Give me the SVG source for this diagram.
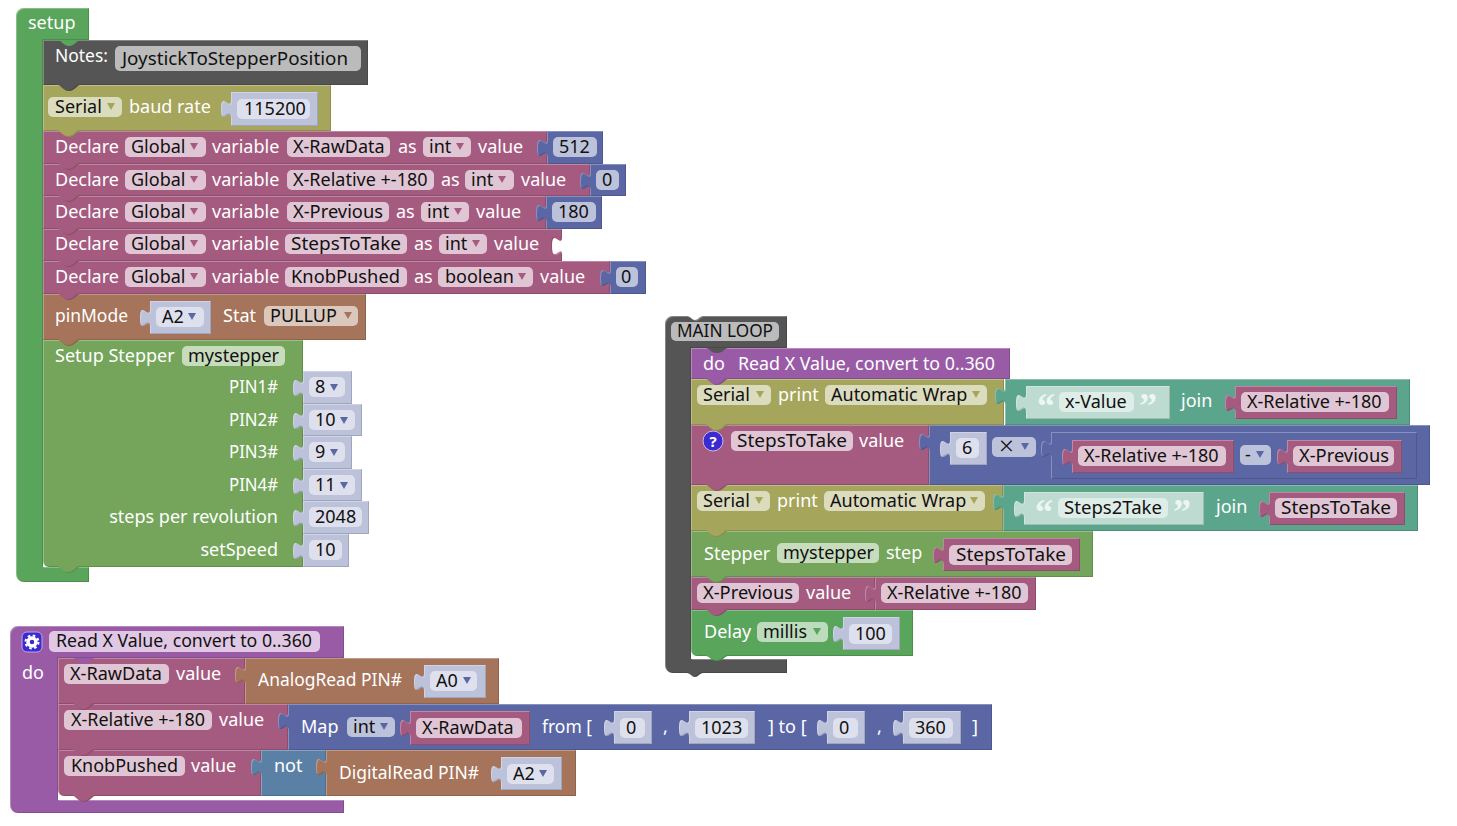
<svg xmlns="http://www.w3.org/2000/svg" width="1457" height="826" viewBox="0 0 1457 826">
<style>
text{font-family:"Noto Sans","Open Sans","Liberation Sans",sans-serif;font-size:18px;white-space:pre}
.t{fill:#fff}.d{fill:#111}
.b{filter:url(#bevel)}
rect{rx:5px}
.g{fill:#59a55b}.n{fill:#555}.s{fill:#a5a55b}.v{fill:#a55b80}.m{fill:#5b67a5}.p{fill:#a5745b}.st{fill:#74a55b}.f{fill:#995ba5}.e{fill:#5ba58c}.o{fill:#5b80a5}
.sh{fill:#bdc2db}.she{fill:#bddbd1}
.fn{fill:#bbb}.fs{fill:#dbdbbd}.fv{fill:#e0c6d4}.fm{fill:#bdc2db}.fh{fill:#dee0ed}.fp{fill:#dbc8bd}.fst{fill:#c7dbbd}.ff{fill:#e0c8e4}.fe{fill:#deede8}.fg{fill:#bddbbd}
.ql{fill:#eef6f3;font-family:"Liberation Serif",serif;font-size:36px;font-weight:700}
</style>
<defs>
<filter id="bevel" x="-5%" y="-15%" width="110%" height="130%" color-interpolation-filters="sRGB">
<feOffset in="SourceAlpha" dx="1" dy="1" result="a"/>
<feComposite in="SourceAlpha" in2="a" operator="out" result="tl"/>
<feFlood flood-color="#fff" flood-opacity=".28"/><feComposite in2="tl" operator="in" result="hi"/>
<feOffset in="SourceAlpha" dx="-1" dy="-1" result="c"/>
<feComposite in="SourceAlpha" in2="c" operator="out" result="br"/>
<feFlood flood-color="#000" flood-opacity=".14"/><feComposite in2="br" operator="in" result="lo"/>
<feMerge><feMergeNode in="SourceGraphic"/><feMergeNode in="hi"/><feMergeNode in="lo"/></feMerge>
</filter>
<path id="arr" d="M0,0h8l-4,7z"/>
</defs>

<g id="setup-hat"><path class="g b" d="M24,8H89V40H43V567H89V582H24a8,8 0 0 1-8-8V16a8,8 0 0 1 8-8z"/><text class="t" x="28" y="29">setup</text></g>

<g id="setup-stepper">
<path class="st b" d="M43,340H303V567H80c-3,0-5,6-11,6s-8-6-11-6H49a6,6 0 0 1-6-6z"/>
<text class="t" x="55" y="362">Setup Stepper</text><rect class="fst" x="182" y="346" width="103" height="20" rx="4"/><text class="d" x="188" y="362">mystepper</text>
<g text-anchor="end"><text class="t" x="278" y="393" textLength="49" lengthAdjust="spacingAndGlyphs">PIN1#</text><text class="t" x="278" y="426" textLength="49" lengthAdjust="spacingAndGlyphs">PIN2#</text><text class="t" x="278" y="458" textLength="49" lengthAdjust="spacingAndGlyphs">PIN3#</text><text class="t" x="278" y="491" textLength="49" lengthAdjust="spacingAndGlyphs">PIN4#</text><text class="t" x="278" y="523">steps per revolution</text><text class="t" x="278" y="556">setSpeed</text></g>
<path class="sh b" d="M303,371H352V404H303V397c0,-12 -10,10 -10,-9s10,3 10,-9z"/><rect class="fh" x="309" y="377" width="36" height="20" rx="4"/><text class="d" x="315" y="393">8</text><use href="#arr" x="330" y="384" fill="#5b67a5"/>
<path class="sh b" d="M303,404H362V436H303V430c0,-12 -10,10 -10,-9s10,3 10,-9z"/><rect class="fh" x="309" y="410" width="46" height="20" rx="4"/><text class="d" x="315" y="426">10</text><use href="#arr" x="340" y="417" fill="#5b67a5"/>
<path class="sh b" d="M303,436H352V469H303V462c0,-12 -10,10 -10,-9s10,3 10,-9z"/><rect class="fh" x="309" y="442" width="36" height="20" rx="4"/><text class="d" x="315" y="458">9</text><use href="#arr" x="330" y="449" fill="#5b67a5"/>
<path class="sh b" d="M303,469H362V501H303V495c0,-12 -10,10 -10,-9s10,3 10,-9z"/><rect class="fh" x="309" y="475" width="46" height="20" rx="4"/><text class="d" x="315" y="491">11</text><use href="#arr" x="340" y="482" fill="#5b67a5"/>
<path class="sh b" d="M303,501H369V534H303V527c0,-12 -10,10 -10,-9s10,3 10,-9z"/><rect class="fh" x="309" y="507" width="53" height="20" rx="4"/><text class="d" x="315" y="523">2048</text>
<path class="sh b" d="M303,534H349V567H303V560c0,-12 -10,10 -10,-9s10,3 10,-9z"/><rect class="fh" x="309" y="540" width="33" height="20" rx="4"/><text class="d" x="315" y="556">10</text>
</g>

<g id="pinmode">
<path class="p b" d="M43,294H366V340H80c-3,0-5,6-11,6s-8-6-11-6H43z"/>
<text class="t" x="55" y="322" textLength="73" lengthAdjust="spacingAndGlyphs">pinMode</text>
<path class="sh b" d="M150,301H211V334H150V327c0,-12 -10,10 -10,-9s10,3 10,-9z"/><rect class="fh" x="156" y="307" width="48" height="20" rx="4"/><text class="d" x="162" y="323">A2</text><use href="#arr" x="188" y="313" fill="#5b67a5"/>
<text class="t" x="223" y="322">Stat</text><rect class="fp" x="264" y="306" width="94" height="20" rx="4"/><text class="d" x="270" y="322">PULLUP</text><use href="#arr" x="344" y="312" fill="#a5745b"/>
</g>

<g id="declare-5">
<path class="v b" d="M43,261H610V294H80c-3,0-5,6-11,6s-8-6-11-6H43z"/>
<text class="t" x="55" y="283">Declare</text><rect class="fv" x="125" y="267" width="81" height="20" rx="4"/><text class="d" x="131" y="283">Global</text><use href="#arr" x="190" y="273" fill="#a55b80"/><text class="t" x="212" y="283">variable</text>
<rect class="fv" x="285" y="267" width="122" height="20" rx="4"/><text class="d" x="291" y="283" textLength="109" lengthAdjust="spacingAndGlyphs">KnobPushed</text><text class="t" x="414" y="283">as</text><rect class="fv" x="438" y="267" width="95" height="20" rx="4"/><text class="d" x="445" y="283">boolean</text><use href="#arr" x="518" y="273" fill="#a55b80"/><text class="t" x="540" y="283">value</text>
<path class="m b" d="M610,261H646V294H610V287c0,-12 -10,10 -10,-9s10,3 10,-9z"/><rect class="fm" x="616" y="267" width="22" height="20" rx="4"/><text class="d" x="621" y="283">0</text>
</g>
<g id="declare-4">
<path class="v b" d="M43,229H562V237c0,12 -10,-10 -10,9s10,-3 10,9V261H80c-3,0-5,6-11,6s-8-6-11-6H43z"/>
<text class="t" x="55" y="250">Declare</text><rect class="fv" x="125" y="234" width="81" height="20" rx="4"/><text class="d" x="131" y="250">Global</text><use href="#arr" x="190" y="240" fill="#a55b80"/><text class="t" x="212" y="250">variable</text>
<rect class="fv" x="285" y="234" width="122" height="20" rx="4"/><text class="d" x="291" y="250" textLength="110" lengthAdjust="spacingAndGlyphs">StepsToTake</text><text class="t" x="414" y="250">as</text><rect class="fv" x="439" y="234" width="48" height="20" rx="4"/><text class="d" x="445" y="250">int</text><use href="#arr" x="472" y="240" fill="#a55b80"/><text class="t" x="494" y="250">value</text>
</g>
<g id="declare-3">
<path class="v b" d="M43,196H546V229H80c-3,0-5,6-11,6s-8-6-11-6H43z"/>
<text class="t" x="55" y="218">Declare</text><rect class="fv" x="125" y="202" width="81" height="20" rx="4"/><text class="d" x="131" y="218">Global</text><use href="#arr" x="190" y="208" fill="#a55b80"/><text class="t" x="212" y="218">variable</text>
<rect class="fv" x="287" y="202" width="102" height="20" rx="4"/><text class="d" x="293" y="218" textLength="90" lengthAdjust="spacingAndGlyphs">X-Previous</text><text class="t" x="396" y="218">as</text><rect class="fv" x="421" y="202" width="48" height="20" rx="4"/><text class="d" x="427" y="218">int</text><use href="#arr" x="454" y="208" fill="#a55b80"/><text class="t" x="476" y="218">value</text>
<path class="m b" d="M546,196H602V229H546V222c0,-12 -10,10 -10,-9s10,3 10,-9z"/><rect class="fm" x="552" y="202" width="44" height="20" rx="4"/><text class="d" x="558" y="218">180</text>
</g>
<g id="declare-2">
<path class="v b" d="M43,164H590V196H80c-3,0-5,6-11,6s-8-6-11-6H43z"/>
<text class="t" x="55" y="186">Declare</text><rect class="fv" x="125" y="170" width="81" height="20" rx="4"/><text class="d" x="131" y="186">Global</text><use href="#arr" x="190" y="176" fill="#a55b80"/><text class="t" x="212" y="186">variable</text>
<rect class="fv" x="287" y="170" width="147" height="20" rx="4"/><text class="d" x="293" y="186">X-Relative +-180</text><text class="t" x="441" y="186">as</text><rect class="fv" x="465" y="170" width="49" height="20" rx="4"/><text class="d" x="471" y="186">int</text><use href="#arr" x="498" y="176" fill="#a55b80"/><text class="t" x="521" y="186">value</text>
<path class="m b" d="M590,164H626V196H590V190c0,-12 -10,10 -10,-9s10,3 10,-9z"/><rect class="fm" x="596" y="170" width="23" height="20" rx="4"/><text class="d" x="602" y="186">0</text>
</g>
<g id="declare-1">
<path class="v b" d="M43,131H547V164H80c-3,0-5,6-11,6s-8-6-11-6H43z"/>
<text class="t" x="55" y="153">Declare</text><rect class="fv" x="125" y="137" width="81" height="20" rx="4"/><text class="d" x="131" y="153">Global</text><use href="#arr" x="190" y="143" fill="#a55b80"/><text class="t" x="212" y="153">variable</text>
<rect class="fv" x="287" y="137" width="103" height="20" rx="4"/><text class="d" x="293" y="153">X-RawData</text><text class="t" x="398" y="153">as</text><rect class="fv" x="423" y="137" width="48" height="20" rx="4"/><text class="d" x="429" y="153">int</text><use href="#arr" x="456" y="143" fill="#a55b80"/><text class="t" x="478" y="153">value</text>
<path class="m b" d="M547,131H603V164H547V157c0,-12 -10,10 -10,-9s10,3 10,-9z"/><rect class="fm" x="553" y="137" width="44" height="20" rx="4"/><text class="d" x="559" y="153">512</text>
</g>
<g id="serial-baud">
<path class="s b" d="M43,85H331V131H80c-3,0-5,6-11,6s-8-6-11-6H43z"/>
<rect class="fs" x="48" y="97" width="74" height="20" rx="4"/><text class="d" x="55" y="113">Serial</text><use href="#arr" x="107" y="103" fill="#a5a55b"/><text class="t" x="129" y="113">baud rate</text>
<path class="sh b" d="M231,92H318V126H231V118c0,-12 -10,10 -10,-9s10,3 10,-9z"/><rect class="fh" x="237" y="99" width="73" height="20" rx="4"/><text class="d" x="244" y="115">115200</text>
</g>
<g id="notes">
<path class="n b" d="M43,40H368V85H80c-3,0-5,6-11,6s-8-6-11-6H43z"/>
<text class="t" x="55" y="62" textLength="53" lengthAdjust="spacingAndGlyphs">Notes:</text><rect class="fn" x="115" y="46" width="246" height="25" rx="4"/><text class="d" x="122" y="65" textLength="226" lengthAdjust="spacingAndGlyphs">JoystickToStepperPosition</text>
</g>
<path class="g" d="M58,40c3,0 5,6 11,6s8-6 11-6z"/>

<g id="read-func"><path class="f b" d="M18,626H344V658H58V800H344V813H18a8,8 0 0 1-8-8V634a8,8 0 0 1 8-8z"/>
<rect x="22" y="632" width="20" height="20" rx="4" fill="#3a2ad0" stroke="#b9a9e6"/><circle cx="32" cy="642" r="4" fill="none" stroke="#fff" stroke-width="3.5"/><circle cx="32" cy="642" r="6.5" fill="none" stroke="#fff" stroke-width="2" stroke-dasharray="2.6 2.5"/>
<rect class="ff" x="49" y="631" width="271" height="21" rx="4"/><text class="d" x="56" y="647" textLength="256" lengthAdjust="spacingAndGlyphs">Read X Value, convert to 0..360</text><text class="t" x="22" y="679">do</text></g>

<g id="set-knob">
<path class="v b" d="M58,750H261V796H95c-3,0-5,6-11,6s-8-6-11-6H64a6,6 0 0 1-6-6z"/>
<rect class="fv" x="64" y="756" width="121" height="20" rx="4"/><text class="d" x="71" y="772" textLength="107" lengthAdjust="spacingAndGlyphs">KnobPushed</text><text class="t" x="191" y="772">value</text>
<path class="o b" d="M261,750H326V796H261V776c0,-12 -10,10 -10,-9s10,3 10,-9z"/><text class="t" x="274" y="772">not</text>
<path class="p b" d="M326,750H576V796H326V776c0,-12 -10,10 -10,-9s10,3 10,-9z"/><text class="t" x="339" y="779" textLength="140" lengthAdjust="spacingAndGlyphs">DigitalRead PIN#</text>
<path class="sh b" d="M501,757H562V790H501V783c0,-12 -10,10 -10,-9s10,3 10,-9z"/><rect class="fh" x="507" y="764" width="47" height="20" rx="4"/><text class="d" x="513" y="780">A2</text><use href="#arr" x="539" y="770" fill="#5b67a5"/>
</g>
<g id="set-rel">
<path class="v b" d="M58,704H288V750H95c-3,0-5,6-11,6s-8-6-11-6H58z"/>
<rect class="fv" x="64" y="710" width="148" height="20" rx="4"/><text class="d" x="71" y="726" textLength="134" lengthAdjust="spacingAndGlyphs">X-Relative +-180</text><text class="t" x="219" y="726">value</text>
<path class="m b" d="M288,704H992V750H288V730c0,-12 -10,10 -10,-9s10,3 10,-9z"/><text class="t" x="301" y="733">Map</text>
<rect class="fm" x="347" y="717" width="48" height="20" rx="4"/><text class="d" x="353" y="733">int</text><use href="#arr" x="380" y="723" fill="#5b67a5"/>
<path class="v b" d="M410,711H530V745H410V737c0,-12 -10,10 -10,-9s10,3 10,-9z"/><rect class="fv" x="416" y="718" width="106" height="20" rx="4"/><text class="d" x="422" y="734">X-RawData</text>
<text class="t" x="542" y="733" textLength="50" lengthAdjust="spacingAndGlyphs">from [</text>
<path class="sh b" d="M614,711H652V744H614V737c0,-12 -10,10 -10,-9s10,3 10,-9z"/><rect class="fh" x="620" y="718" width="25" height="20" rx="4"/><text class="d" x="626" y="734">0</text>
<text class="t" x="663" y="733">,</text>
<path class="sh b" d="M689,711H755V744H689V737c0,-12 -10,10 -10,-9s10,3 10,-9z"/><rect class="fh" x="695" y="718" width="53" height="20" rx="4"/><text class="d" x="701" y="734">1023</text>
<text class="t" x="768" y="733">] to [</text>
<path class="sh b" d="M827,711H865V744H827V737c0,-12 -10,10 -10,-9s10,3 10,-9z"/><rect class="fh" x="833" y="718" width="25" height="20" rx="4"/><text class="d" x="839" y="734">0</text>
<text class="t" x="877" y="733">,</text>
<path class="sh b" d="M903,711H961V744H903V737c0,-12 -10,10 -10,-9s10,3 10,-9z"/><rect class="fh" x="909" y="718" width="44" height="20" rx="4"/><text class="d" x="915" y="734">360</text>
<text class="t" x="972" y="733">]</text>
</g>
<g id="set-raw">
<path class="v b" d="M58,658H245V704H95c-3,0-5,6-11,6s-8-6-11-6H58z"/>
<rect class="fv" x="64" y="664" width="105" height="20" rx="4"/><text class="d" x="70" y="680" textLength="92" lengthAdjust="spacingAndGlyphs">X-RawData</text><text class="t" x="176" y="680">value</text>
<path class="p b" d="M245,658H499V704H245V684c0,-12 -10,10 -10,-9s10,3 10,-9z"/><text class="t" x="258" y="686" textLength="144" lengthAdjust="spacingAndGlyphs">AnalogRead PIN#</text>
<path class="sh b" d="M424,665H486V698H424V691c0,-12 -10,10 -10,-9s10,3 10,-9z"/><rect class="fh" x="430" y="671" width="47" height="20" rx="4"/><text class="d" x="436" y="687">A0</text><use href="#arr" x="463" y="677" fill="#5b67a5"/>
</g>
<path class="f" d="M73,658c3,0 5,6 11,6s8-6 11-6z"/>

<g id="main-loop"><path class="n b" d="M673,316H687c3,0 5,4 8,4s5-4 8-4H787V348H691V659H787V673H703c-3,0-5,4-8,4s-5-4-8-4H673a8,8 0 0 1-8-8V324a8,8 0 0 1 8-8z"/>
<rect class="fn" x="671" y="322" width="108" height="19" rx="4"/><text class="d" x="677" y="337" textLength="96" lengthAdjust="spacingAndGlyphs">MAIN LOOP</text></g>

<g id="delay">
<path class="g b" d="M691,610H913V656H728c-3,0-5,5-11,5s-8-5-11-5H697a6,6 0 0 1-6-6z"/>
<text class="t" x="704" y="638">Delay</text><rect class="fg" x="757" y="622" width="71" height="20" rx="4"/><text class="d" x="763" y="638">millis</text><use href="#arr" x="813" y="628" fill="#59a55b"/>
<path class="sh b" d="M843,617H900V650H843V643c0,-12 -10,10 -10,-9s10,3 10,-9z"/><rect class="fh" x="849" y="624" width="43" height="20" rx="4"/><text class="d" x="855" y="640">100</text>
</g>
<g id="set-previous">
<path class="v b" d="M691,577H875V610H728c-3,0-5,6-11,6s-8-6-11-6H691z"/>
<rect class="fv" x="697" y="583" width="102" height="20" rx="4"/><text class="d" x="703" y="599" textLength="90" lengthAdjust="spacingAndGlyphs">X-Previous</text><text class="t" x="806" y="599">value</text>
<path class="v b" d="M875,577H1036V610H875V603c0,-12 -10,10 -10,-9s10,3 10,-9z"/><rect class="fv" x="881" y="583" width="147" height="20" rx="4"/><text class="d" x="887" y="599">X-Relative +-180</text>
</g>
<g id="stepper-step">
<path class="st b" d="M691,531H1093V577H728c-3,0-5,6-11,6s-8-6-11-6H691z"/>
<text class="t" x="704" y="560">Stepper</text><rect class="fst" x="777" y="543" width="102" height="20" rx="4"/><text class="d" x="783" y="559">mystepper</text><text class="t" x="886" y="559">step</text>
<path class="v b" d="M943,538H1080V571H943V564c0,-12 -10,10 -10,-9s10,3 10,-9z"/><rect class="fv" x="949" y="545" width="123" height="20" rx="4"/><text class="d" x="956" y="561" textLength="110" lengthAdjust="spacingAndGlyphs">StepsToTake</text>
</g>
<g id="serial-print-2">
<path class="s b" d="M691,485H1003V531H728c-3,0-5,6-11,6s-8-6-11-6H691z"/>
<rect class="fs" x="697" y="491" width="73" height="20" rx="4"/><text class="d" x="703" y="507">Serial</text><use href="#arr" x="755" y="497" fill="#a5a55b"/><text class="t" x="777" y="507">print</text>
<rect class="fs" x="824" y="491" width="161" height="20" rx="4"/><text class="d" x="830" y="507">Automatic Wrap</text><use href="#arr" x="970" y="497" fill="#a5a55b"/>
<path class="e b" d="M1003,485H1418V531H1003V511c0,-12 -10,10 -10,-9s10,3 10,-9z"/>
<path class="she b" d="M1024,492H1204V525H1024V518c0,-12 -10,10 -10,-9s10,3 10,-9z"/><text class="ql" x="1035" y="524">“</text><rect class="fe" x="1058" y="498" width="110" height="20" rx="4"/><text class="d" x="1064" y="514" textLength="98" lengthAdjust="spacingAndGlyphs">Steps2Take</text><text class="ql" x="1173" y="524">”</text>
<text class="t" x="1216" y="513">join</text>
<path class="v b" d="M1269,492H1405V525H1269V518c0,-12 -10,10 -10,-9s10,3 10,-9z"/><rect class="fv" x="1275" y="498" width="122" height="20" rx="4"/><text class="d" x="1281" y="514" textLength="110" lengthAdjust="spacingAndGlyphs">StepsToTake</text>
</g>
<g id="set-steps">
<path class="v b" d="M691,425H929V485H728c-3,0-5,6-11,6s-8-6-11-6H691z"/>
<circle cx="713" cy="441" r="10" fill="#3a2ad0" stroke="#c9b9ee"/><text x="713" y="447" text-anchor="middle" fill="#fff" font-weight="700" style="font-size:15px">?</text>
<rect class="fv" x="731" y="431" width="122" height="20" rx="4"/><text class="d" x="737" y="447" textLength="110" lengthAdjust="spacingAndGlyphs">StepsToTake</text><text class="t" x="859" y="447">value</text>
<path class="m b" d="M929,425H1430V485H929V451c0,-12 -10,10 -10,-9s10,3 10,-9z"/>
<path class="sh b" d="M950,432H987V465H950V458c0,-12 -10,10 -10,-9s10,3 10,-9z"/><rect class="fh" x="956" y="438" width="23" height="20" rx="4"/><text class="d" x="962" y="454">6</text>
<rect class="fm" x="992" y="437" width="44" height="20" rx="4"/><text class="d" x="999" y="455" style="font-size:26px;font-weight:300">×</text><use href="#arr" x="1021" y="443" fill="#5b67a5"/>
<path class="m b" d="M1051,432H1417V479H1051V458c0,-12 -10,10 -10,-9s10,3 10,-9z"/>
<path class="v b" d="M1072,440H1234V473H1072V466c0,-12 -10,10 -10,-9s10,3 10,-9z"/><rect class="fv" x="1078" y="446" width="148" height="20" rx="4"/><text class="d" x="1084" y="462">X-Relative +-180</text>
<rect class="fm" x="1240" y="445" width="31" height="20" rx="4"/><text class="d" x="1245" y="461">-</text><use href="#arr" x="1256" y="451" fill="#5b67a5"/>
<path class="v b" d="M1287,440H1402V473H1287V466c0,-12 -10,10 -10,-9s10,3 10,-9z"/><rect class="fv" x="1293" y="446" width="101" height="20" rx="4"/><text class="d" x="1299" y="462" textLength="90" lengthAdjust="spacingAndGlyphs">X-Previous</text>
</g>
<g id="serial-print-1">
<path class="s b" d="M691,379H1004V425H728c-3,0-5,6-11,6s-8-6-11-6H691z"/>
<rect class="fs" x="697" y="385" width="74" height="20" rx="4"/><text class="d" x="703" y="401">Serial</text><use href="#arr" x="756" y="391" fill="#a5a55b"/><text class="t" x="778" y="401">print</text>
<rect class="fs" x="825" y="385" width="162" height="20" rx="4"/><text class="d" x="831" y="401">Automatic Wrap</text><use href="#arr" x="972" y="391" fill="#a5a55b"/>
<path class="e b" d="M1005,379H1410V425H1005V405c0,-12 -10,10 -10,-9s10,3 10,-9z"/>
<path class="she b" d="M1026,386H1170V419H1026V412c0,-12 -10,10 -10,-9s10,3 10,-9z"/><text class="ql" x="1037" y="418">“</text><rect class="fe" x="1059" y="392" width="75" height="20" rx="4"/><text class="d" x="1065" y="408">x-Value</text><text class="ql" x="1139" y="418">”</text>
<text class="t" x="1181" y="407">join</text>
<path class="v b" d="M1235,386H1397V419H1235V412c0,-12 -10,10 -10,-9s10,3 10,-9z"/><rect class="fv" x="1241" y="392" width="148" height="20" rx="4"/><text class="d" x="1247" y="408">X-Relative +-180</text>
</g>
<g id="do-read">
<path class="f b" d="M691,348H1010V379H728c-3,0-5,6-11,6s-8-6-11-6H691z"/>
<text class="t" x="703" y="370">do</text><text class="t" x="738" y="370" textLength="257" lengthAdjust="spacingAndGlyphs">Read X Value, convert to 0..360</text>
</g>
<path class="n" d="M706,348c3,0 5,5 11,5s8-5 11-5z"/>
</svg>
